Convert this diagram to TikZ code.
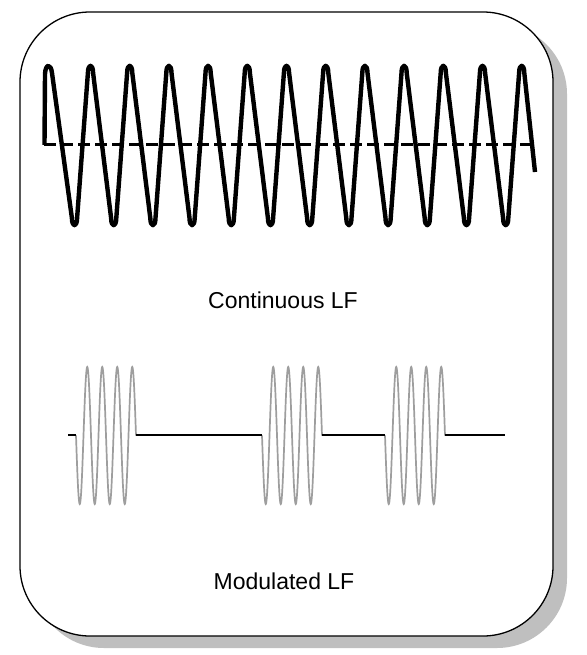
\documentclass[tikz,border=0pt]{standalone}
\usepackage{fontspec}
\setmainfont{Liberation Sans}
\def\wtrough#1{-- ({#1-2.6},218) .. controls ({#1-2.6},227.6) and ({#1+2.6},227.6) .. ({#1+2.6},218)}
\def\wpeak#1{-- ({#1-2.6},73) .. controls ({#1-2.6},63.4) and ({#1+2.6},63.4) .. ({#1+2.6},73)}
\begin{document}
\begin{tikzpicture}[x=1pt,y=-1pt,
  frame/.style={draw=black,line width=1.3pt,fill=white,rounded corners=70pt},
  shadowbox/.style={fill=black!25,rounded corners=70pt},
  wave/.style={line width=4.4pt,line join=round,line cap=butt},
  centreline/.style={line width=3pt,dash pattern=on 12pt off 5pt},
  burst/.style={draw=black!38,line width=1.7pt},
  baseline/.style={line width=2pt},
  caption/.style={font=\fontsize{23}{27}\selectfont,anchor=base,inner sep=0pt}]
\useasboundingbox (0,0) rectangle (586,655);
% box with shadow
\fill[shadowbox] (34,24) rectangle (567,648);
\draw[frame] (20,12) rectangle (553,636);
% continuous LF
\draw[centreline] (44,145) -- (535,145);
\draw[wave] (44.5,145) -- (45,74) .. controls (45.5,63.4) and (51,63.4) .. (52,73)
  \foreach \k in {0,...,11}{ \wtrough{74.5+39.2*\k} \wpeak{90.5+39.2*\k} }
  -- (535,172);
\node[caption] (cont) at (283,308) {Continuous LF};
% modulated LF
\foreach \xs in {76,262,385}
  \draw[burst] plot[domain=0:60,samples=241,smooth] ({\xs+\x},{435.5+68.5*sin(24*\x)});
\draw[baseline] (68,435) -- (76,435);
\draw[baseline] (136,435) -- (262,435);
\draw[baseline] (322,435) -- (385,435);
\draw[baseline] (445,435) -- (505,435);
\node[caption] (mod) at (284,589) {Modulated LF};
\end{tikzpicture}
\end{document}
